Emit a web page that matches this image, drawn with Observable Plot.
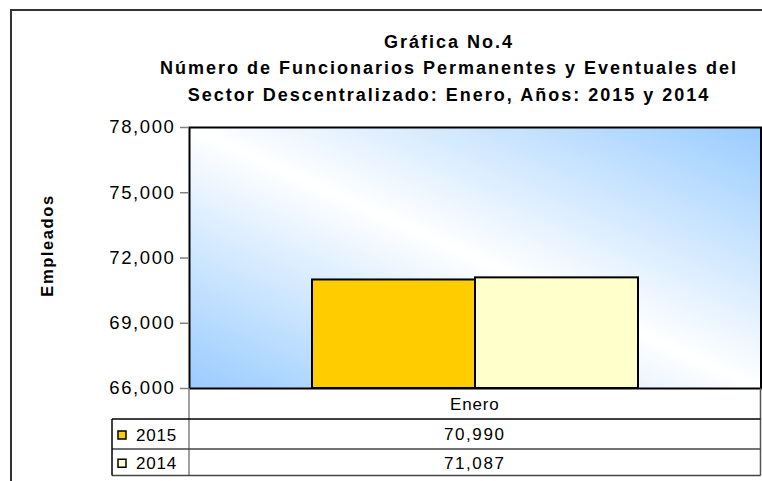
<!DOCTYPE html>
<html>
<head>
<meta charset="utf-8">
<script src="https://cdn.jsdelivr.net/npm/d3@7"></script>
<script src="https://cdn.jsdelivr.net/npm/@observablehq/plot@0.6"></script>
<style>
  html, body { margin: 0; padding: 0; background: #fff; }
  svg { font-family: "Liberation Sans", Arial, sans-serif; }
</style>
</head>
<body>
<div id="chart"></div>
<script>
// ---- data ----
const titleLines = ["Gráfica No.4", "Número de Funcionarios Permanentes y Eventuales del", "Sector Descentralizado: Enero, Años: 2015 y 2014"];
const yLabel = "Empleados";
const category = "Enero";
const series = ["2015", "2014"];
const values = [70990, 71087];
const colors = ["#FFCC00", "#FFFFCC"];
const yTicks = [66000, 69000, 72000, 75000, 78000];

(function () {
const data = series.map((s, i) => ({series: s, value: values[i], color: colors[i]}));
const fmt = d3.format(",");
const W = 762, H = 481;
const font = "'Liberation Sans', Arial, sans-serif";

const chart = Plot.plot({
  width: W,
  height: H,
  marginLeft: 189,
  marginRight: 1.5,
  marginTop: 127,
  marginBottom: 93,
  style: {fontFamily: font, background: "white", overflow: "visible"},
  x: {type: "band", domain: series, paddingInner: 0, paddingOuter: 0.75, axis: null},
  y: {domain: [yTicks[0], yTicks[yTicks.length - 1]], axis: null},
  marks: [
    Plot.frame({fill: "url(#bgGrad)", stroke: null}),
    Plot.barY(data, {x: "series", y1: yTicks[0], y2: "value", fill: "color", stroke: "#000", strokeWidth: 2}),
    Plot.frame({stroke: "#000", strokeWidth: 2}),
    Plot.axisY({ticks: yTicks, tickFormat: fmt, tickSize: 9, tickPadding: 5, fontSize: 18.5, stroke: "#808080", strokeWidth: 1.5, fill: "#000", anchor: "left", label: null})
  ]
});

document.getElementById("chart").appendChild(chart);

const svg = d3.select(chart);
svg.selectAll('[aria-label="y-axis tick label"] text').attr("letter-spacing", "1.6px");

// gradient
const defs = svg.insert("defs", ":first-child");
const g = defs.append("linearGradient").attr("id", "bgGrad")
  .attr("x1", 1).attr("y1", 0).attr("x2", 0).attr("y2", 1);
g.append("stop").attr("offset", 0).attr("stop-color", "#99CCFF");
g.append("stop").attr("offset", 0.5).attr("stop-color", "#FFFFFF");
g.append("stop").attr("offset", 1).attr("stop-color", "#99CCFF");

const ys = chart.scale("y");
const left = 189, right = W - 1.5;
const yBottom = ys.apply(yTicks[0]);
const yTop = ys.apply(yTicks[yTicks.length - 1]);
const cx = (left + right) / 2;

// outer border
svg.append("rect").attr("x", 11).attr("y", 10).attr("width", W + 20).attr("height", H + 20)
  .attr("fill", "none").attr("stroke", "#333").attr("stroke-width", 2);

// y label
svg.append("text").attr("transform", `translate(47,${(yTop + yBottom) / 2 - 12}) rotate(-90)`)
  .attr("text-anchor", "middle").attr("dy", "0.36em").attr("font-size", 16.5).attr("font-weight", "bold")
  .attr("letter-spacing", "1.6px").attr("fill", "#000").text(yLabel);

// title
const tg = svg.append("g").attr("font-weight", "bold").attr("font-size", 18).attr("text-anchor", "middle").attr("fill", "#000");
[42, 68, 95].forEach((ty, i) => {
  tg.append("text").attr("x", 449).attr("y", ty).attr("dy", "0.36em").attr("letter-spacing", "2px").text(titleLines[i]);
});

// data table
const r1 = yBottom + 31, r2 = yBottom + 61, r3 = yBottom + 87.5;
const tbl = svg.append("g").attr("text-anchor", "start").attr("fill", "#000");
tbl.append("line").attr("x1", left).attr("x2", left).attr("y1", yBottom).attr("y2", r3).attr("stroke", "#808080").attr("stroke-width", 1.5);
tbl.append("line").attr("x1", right).attr("x2", right).attr("y1", yBottom).attr("y2", r3).attr("stroke", "#555").attr("stroke-width", 1.5);
[[r1, "#000"], [r2, "#444"], [r3, "#444"]].forEach(([yy, c]) => {
  tbl.append("line").attr("x1", 112).attr("x2", right).attr("y1", yy).attr("y2", yy).attr("stroke", c).attr("stroke-width", 1.5);
});
tbl.append("line").attr("x1", 112).attr("x2", 112).attr("y1", r1).attr("y2", r3).attr("stroke", "#000").attr("stroke-width", 1.5);

tbl.append("text").attr("x", cx).attr("y", (yBottom + r1) / 2).attr("dy", "0.36em").attr("text-anchor", "middle")
  .attr("font-size", 17).attr("letter-spacing", "0.8px").text(category);
const rowC = [(r1 + r2) / 2, (r2 + r3) / 2];
data.forEach((d, i) => {
  tbl.append("rect").attr("x", 118).attr("y", rowC[i] - 3).attr("width", 8).attr("height", 8)
    .attr("fill", d.color).attr("stroke", "#000").attr("stroke-width", 1.5);
  tbl.append("text").attr("x", 136).attr("y", rowC[i]).attr("dy", "0.42em").attr("text-anchor", "start")
    .attr("font-size", 17).attr("letter-spacing", "0.8px").text(d.series);
  tbl.append("text").attr("x", cx).attr("y", rowC[i]).attr("dy", "0.38em").attr("text-anchor", "middle")
    .attr("font-size", 17).attr("letter-spacing", "1.6px").text(fmt(d.value));
});
})();
</script>
</body>
</html>
